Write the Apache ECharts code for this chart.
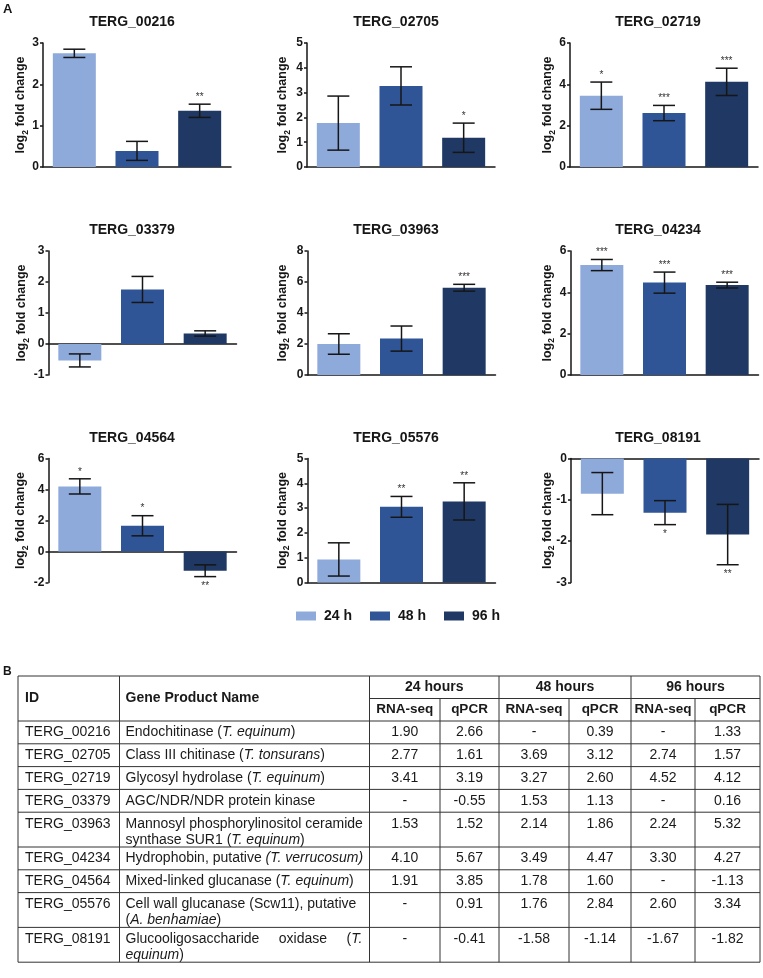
<!DOCTYPE html>
<html><head><meta charset="utf-8">
<script src="https://cdn.jsdelivr.net/npm/echarts@6/dist/echarts.min.js"></script>
<style>html,body{margin:0;padding:0;background:#fff}#c{width:763px;height:978px}</style>
</head><body><div id="c"></div>
<script>
// ---------- DATA ----------
const genes = ['TERG_00216','TERG_02705','TERG_02719','TERG_03379','TERG_03963','TERG_04234','TERG_04564','TERG_05576','TERG_08191'];
const timePoints = ['24 h','48 h','96 h'];
const mean24h = [2.75, 1.77, 3.45, -0.53, 2.00, 5.32, 4.20, 0.93, -0.85];
const mean48h = [0.39, 3.27, 2.61, 1.76, 2.35, 4.47, 1.66, 3.05, -1.31];
const mean96h = [1.36, 1.18, 4.12, 0.34, 5.63, 4.35, -1.24, 3.27, -1.84];
const sem24h = [0.10, 1.09, 0.66, 0.21, 0.66, 0.27, 0.49, 0.67, 0.51];
const sem48h = [0.23, 0.77, 0.37, 0.42, 0.81, 0.51, 0.65, 0.42, 0.29];
const sem96h = [0.16, 0.59, 0.66, 0.085, 0.22, 0.14, 0.38, 0.75, 0.73];
const sig24h = ['', '', '*', '', '', '***', '*', '', ''];
const sig48h = ['', '', '***', '', '', '***', '*', '**', '*'];
const sig96h = ['**', '*', '***', '', '***', '***', '**', '**', '**'];
const yMin = [0, 0, 0, -1, 0, 0, -2, 0, -3];
const yMax = [3, 5, 6, 3, 8, 6, 6, 5, 0];
const yStep = [1, 1, 2, 1, 2, 2, 2, 1, 1];

const tableIds = genes;
const productNames = [
  'Endochitinase (*T. equinum*)',
  'Class III chitinase (*T. tonsurans*)',
  'Glycosyl hydrolase (*T. equinum*)',
  'AGC/NDR/NDR protein kinase',
  'Mannosyl phosphorylinositol ceramide\nsynthase SUR1 (*T. equinum*)',
  'Hydrophobin, putative *(T. verrucosum)*',
  'Mixed-linked glucanase (*T. equinum*)',
  'Cell wall glucanase (Scw11), putative\n(*A. benhamiae*)',
  'Glucooligosaccharide     oxidase     (*T.*\n*equinum*)'
];
const rnaSeq24h = ['1.90','2.77','3.41','-','1.53','4.10','1.91','-','-'];
const qpcr24h   = ['2.66','1.61','3.19','-0.55','1.52','5.67','3.85','0.91','-0.41'];
const rnaSeq48h = ['-','3.69','3.27','1.53','2.14','3.49','1.78','1.76','-1.58'];
const qpcr48h   = ['0.39','3.12','2.60','1.13','1.86','4.47','1.60','2.84','-1.14'];
const rnaSeq96h = ['-','2.74','4.52','-','2.24','3.30','-','2.60','-1.67'];
const qpcr96h   = ['1.33','1.57','4.12','0.16','5.32','4.27','-1.13','3.34','-1.82'];
const headerTimes = ['24 hours','48 hours','96 hours'];
const headerMethods = ['RNA-seq','qPCR'];

// ---------- LAYOUT / STYLE ----------
const FONT = '"Liberation Sans", Arial, Helvetica, sans-serif';
const INK = '#161616';
const barColors = ['#8eaadb', '#2f5597', '#1f3864'];
const panelLeft = [43, 307, 570, 48.5, 307.5, 570.5, 48.5, 307.5, 571];
const panelTop  = [43, 43, 43, 251, 251, 251, 458.5, 458.5, 458.5];
const nameGaps  = [13, 15, 13, 17.5, 16, 14, 18.5, 16, 14.5];
const titleX = [132, 396, 658];
const GW = 188, GH = 124;

const means = [mean24h, mean48h, mean96h];
const sems = [sem24h, sem48h, sem96h];
const sigs = [sig24h, sig48h, sig96h];

const grids = [], xAxes = [], yAxes = [], series = [], graphics = [];

genes.forEach((g, p) => {
  grids.push({left: panelLeft[p], top: panelTop[p], width: GW, height: GH, containLabel: false, outerBoundsMode: 'none'});
  xAxes.push({
    type: 'category', gridIndex: p, data: timePoints,
    axisLine: {show: true, onZero: true, lineStyle: {color: INK, width: 1.5}},
    axisTick: {show: false}, axisLabel: {show: false}, splitLine: {show: false}
  });
  yAxes.push({
    type: 'value', gridIndex: p, min: yMin[p], max: yMax[p], interval: yStep[p],
    axisLine: {show: true, onZero: false, lineStyle: {color: INK, width: 1.5}},
    axisTick: {show: true, length: 3, lineStyle: {color: INK, width: 1.5}},
    axisLabel: {fontFamily: FONT, fontWeight: 'bold', fontSize: 12, color: INK, margin: 4},
    splitLine: {show: false},
    name: '{a|log}{s|2}{a| fold change}',
    nameLocation: 'middle', nameGap: nameGaps[p], nameMoveOverlap: false,
    nameTextStyle: {
      rich: {
        a: {fontFamily: FONT, fontWeight: 'bold', fontSize: 12.5, color: INK},
        s: {fontFamily: FONT, fontWeight: 'bold', fontSize: 8.5, color: INK, verticalAlign: 'top', padding: [9, 0, 0, 0]}
      }
    }
  });
  for (let k = 0; k < 3; k++) {
    series.push({
      type: 'bar', name: timePoints[k], xAxisIndex: p, yAxisIndex: p,
      data: [0, 1, 2].map(j => j === k ? means[k][p] : '-'),
      barWidth: 43, barGap: '-100%', itemStyle: {color: barColors[k]},
      silent: true, animation: false
    });
  }
  series.push({
    type: 'custom', xAxisIndex: p, yAxisIndex: p, z: 5, silent: true, animation: false, clip: false,
    data: [0, 1, 2].map(k => [k, means[k][p], sems[k][p]]),
    renderItem(params, api) {
      const k = api.value(0), m = api.value(1), e = api.value(2);
      const hi = api.coord([k, m + e]), lo = api.coord([k, m - e]);
      const x = hi[0], cw = 11;
      const st = {stroke: INK, lineWidth: 1.5};
      const ch = [
        {type: 'line', shape: {x1: x, y1: hi[1], x2: x, y2: lo[1]}, style: st},
        {type: 'line', shape: {x1: x - cw, y1: hi[1], x2: x + cw, y2: hi[1]}, style: st},
        {type: 'line', shape: {x1: x - cw, y1: lo[1], x2: x + cw, y2: lo[1]}, style: st}
      ];
      const sg = sigs[k][p];
      if (sg) {
        const below = m < 0;
        ch.push({type: 'text', x: x, y: below ? lo[1] + 5 : hi[1] - 2,
          style: {text: sg, align: 'center', textAlign: 'center',
            verticalAlign: below ? 'top' : 'bottom', textVerticalAlign: below ? 'top' : 'bottom',
            fontSize: 10, fontFamily: FONT, fill: '#333'}});
      }
      return {type: 'group', children: ch};
    }
  });
  graphics.push({type: 'text', x: titleX[p % 3], y: panelTop[p] - 20.5,
    style: {text: g, align: 'center', verticalAlign: 'middle', textAlign: 'center', textVerticalAlign: 'middle',
      fontFamily: FONT, fontWeight: 'bold', fontSize: 14, fill: INK}});
});

// Panel letters
graphics.push({type: 'text', x: 3, y: 3, style: {text: 'A', fontFamily: FONT, fontWeight: 'bold', fontSize: 13, fill: INK, verticalAlign: 'top', textVerticalAlign: 'top'}});
graphics.push({type: 'text', x: 3, y: 666, style: {text: 'B', fontFamily: FONT, fontWeight: 'bold', fontSize: 12, fill: INK, verticalAlign: 'top', textVerticalAlign: 'top'}});

// ---------- TABLE ----------
const colX = [18, 119.5, 369.5, 440, 499, 569, 631, 695, 760];
const tTop = 676, hRow1 = 22.5, hRow2 = 22.5, rowH1 = 22.8, rowH2 = 34.8, lineH = 16;
const tStroke = {stroke: '#333', lineWidth: 1};
const rowTops = [];
let yCur = tTop + hRow1 + hRow2;
productNames.forEach(n => { rowTops.push(yCur); yCur += n.indexOf('\n') >= 0 ? rowH2 : rowH1; });
const tBottom = yCur;
function hl(y, x1, x2) { graphics.push({type: 'line', shape: {x1, y1: y, x2, y2: y}, style: tStroke, silent: true}); }
function vl(x, y1, y2) { graphics.push({type: 'line', shape: {x1: x, y1, x2: x, y2}, style: tStroke, silent: true}); }
hl(tTop, colX[0], colX[8]);
hl(tTop + hRow1, colX[2], colX[8]);
hl(tTop + hRow1 + hRow2, colX[0], colX[8]);
rowTops.forEach((y, i) => { if (i > 0) hl(y, colX[0], colX[8]); });
hl(tBottom, colX[0], colX[8]);
[0, 1, 2, 4, 6, 8].forEach(c => vl(colX[c], tTop, tBottom));
[3, 5, 7].forEach(c => vl(colX[c], tTop + hRow1, tBottom));
function txt(x, y, s, opt) {
  graphics.push({type: 'text', x, y, silent: true, style: Object.assign({
    text: s, fontFamily: FONT, fontSize: 14, fill: '#1a1a1a', lineHeight: lineH,
    align: 'left', textAlign: 'left', verticalAlign: 'top', textVerticalAlign: 'top'}, opt || {})});
}
const headMid = tTop + (hRow1 + hRow2) / 2;
txt(colX[0] + 7, headMid, 'ID', {fontWeight: 'bold', verticalAlign: 'middle', textVerticalAlign: 'middle'});
txt(colX[1] + 6, headMid, 'Gene Product Name', {fontWeight: 'bold', verticalAlign: 'middle', textVerticalAlign: 'middle'});
headerTimes.forEach((h, t) => {
  const xa = colX[2 + 2 * t], xb = colX[4 + 2 * t];
  txt((xa + xb) / 2, tTop + hRow1 / 2, h, {fontWeight: 'bold', align: 'center', textAlign: 'center', verticalAlign: 'middle', textVerticalAlign: 'middle'});
  headerMethods.forEach((mth, q) => {
    const c = 2 + 2 * t + q;
    txt((colX[c] + colX[c + 1]) / 2, tTop + hRow1 + hRow2 / 2, mth, {fontWeight: 'bold', fontSize: 13.5, align: 'center', textAlign: 'center', verticalAlign: 'middle', textVerticalAlign: 'middle'});
  });
});
const valueCols = [rnaSeq24h, qpcr24h, rnaSeq48h, qpcr48h, rnaSeq96h, qpcr96h];
rowTops.forEach((y, i) => {
  const ty = y + 3.6;
  txt(colX[0] + 7, ty, tableIds[i]);
  txt(colX[1] + 6, ty, productNames[i].replace(/\*([^*]+)\*/g, '{i|$1}'),
    {rich: {i: {fontFamily: FONT, fontSize: 14, fontStyle: 'italic', fill: '#1a1a1a', lineHeight: lineH}}});
  valueCols.forEach((col, c) => {
    txt((colX[2 + c] + colX[3 + c]) / 2, ty, col[i], {align: 'center', textAlign: 'center'});
  });
});

const chart = echarts.init(document.getElementById('c'), null, {renderer: 'canvas', width: 763, height: 978});
chart.setOption({
  animation: false,
  backgroundColor: '#fff',
  grid: grids, xAxis: xAxes, yAxis: yAxes, series: series,
  legend: {
    data: timePoints, left: 291, top: 604, orient: 'horizontal', icon: 'rect',
    itemWidth: 20, itemHeight: 9, itemGap: 18, selectedMode: false,
    textStyle: {fontFamily: FONT, fontWeight: 'bold', fontSize: 14, color: INK, padding: [0, 0, 0, 3]}
  },
  graphic: {elements: graphics}
});
</script>
</body></html>
